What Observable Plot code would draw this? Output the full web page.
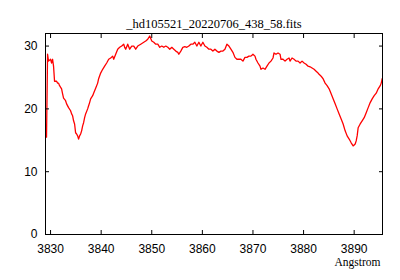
<!DOCTYPE html>
<html>
<head>
<meta charset="utf-8">
<script src="https://cdn.jsdelivr.net/npm/d3@7"></script>
<script src="https://cdn.jsdelivr.net/npm/@observablehq/plot@0.6"></script>
<style>
  html, body { margin: 0; padding: 0; background: #fff; }
  #chart svg { display: block; }
</style>
</head>
<body>
<div id="chart"></div>
<script>
const title = "_hd105521_20220706_438_58.fits";
const xLabel = "Angstrom";
const xTicks = [3830, 3840, 3850, 3860, 3870, 3880, 3890];
const yTicks = [0, 10, 20, 30];

const wavelength = [
  3829.20, 3829.41, 3829.60, 3830.00, 3830.20, 3830.40, 3830.59, 3830.79, 3831.19, 3831.39,
  3831.58, 3831.78, 3832.18, 3832.38, 3832.57, 3832.97, 3833.17, 3833.56, 3833.96, 3834.16,
  3834.36, 3834.55, 3834.75, 3834.95, 3835.15, 3835.35, 3835.54, 3835.74, 3835.94, 3836.14,
  3836.34, 3836.53, 3836.73, 3836.93, 3837.33, 3837.52, 3837.72, 3837.92, 3838.32, 3838.51,
  3838.91, 3839.31, 3839.50, 3839.90, 3840.30, 3840.69, 3841.09, 3841.49, 3841.88, 3842.28,
  3842.48, 3842.87, 3843.27, 3843.66, 3844.06, 3844.46, 3844.65, 3844.85, 3845.25, 3845.64,
  3846.04, 3846.44, 3846.83, 3847.23, 3847.82, 3848.42, 3848.81, 3849.21, 3849.60, 3850.00,
  3850.40, 3850.79, 3851.19, 3851.58, 3851.98, 3852.38, 3852.77, 3853.17, 3853.56, 3853.96,
  3854.36, 3854.75, 3855.15, 3855.35, 3855.74, 3856.14, 3856.53, 3856.93, 3857.33, 3857.72,
  3858.12, 3858.51, 3858.91, 3859.31, 3859.70, 3860.10, 3860.50, 3860.89, 3861.29, 3861.68,
  3862.08, 3862.48, 3862.87, 3863.27, 3863.66, 3864.06, 3864.46, 3864.85, 3865.25, 3865.64,
  3866.04, 3866.44, 3866.83, 3867.23, 3867.62, 3868.02, 3868.42, 3868.81, 3869.21, 3869.60,
  3870.00, 3870.40, 3870.59, 3870.99, 3871.39, 3871.58, 3871.98, 3872.38, 3872.77, 3873.17,
  3873.56, 3873.96, 3874.16, 3874.55, 3874.95, 3875.35, 3875.54, 3875.94, 3876.34, 3876.73,
  3877.13, 3877.33, 3877.72, 3878.12, 3878.51, 3878.91, 3879.31, 3879.70, 3880.10, 3880.50,
  3880.89, 3881.29, 3881.68, 3882.08, 3882.48, 3882.87, 3883.07, 3883.47, 3883.86, 3884.26,
  3884.65, 3885.05, 3885.45, 3885.84, 3886.24, 3886.63, 3887.03, 3887.43, 3887.82, 3888.22,
  3888.61, 3889.01, 3889.41, 3889.80, 3890.20, 3890.40, 3890.59, 3890.79, 3891.19, 3891.58,
  3891.98, 3892.38, 3892.77, 3893.17, 3893.56, 3893.96, 3894.36, 3894.75, 3895.15, 3895.35,
  3895.54
];
const flux = [
  15.5, 28.7, 27.6, 27.9, 27.3, 27.9, 26.8, 24.4, 24.4, 24.1,
  24.1, 23.7, 23.2, 22.4, 21.7, 21.3, 20.8, 20.2, 19.7, 19.2,
  18.9, 18.1, 17.6, 16.2, 16.0, 15.7, 15.2, 15.7, 16.0, 16.5,
  17.3, 17.8, 18.6, 19.2, 20.0, 20.5, 21.0, 21.6, 22.1, 22.5,
  23.3, 24.1, 24.8, 25.7, 26.3, 26.8, 27.3, 27.9, 28.1, 28.4,
  27.9, 28.7, 29.5, 29.8, 30.0, 30.3, 29.8, 29.5, 30.3, 29.5,
  30.0, 30.0, 29.5, 30.0, 30.3, 30.6, 30.8, 31.1, 31.6, 30.8,
  30.6, 30.3, 30.3, 29.8, 30.0, 29.8, 30.0, 29.8, 29.5, 29.8,
  29.5, 29.2, 29.0, 28.7, 29.2, 29.8, 29.9, 29.8, 30.0, 30.3,
  30.3, 30.6, 30.0, 30.6, 30.0, 30.6, 30.0, 29.8, 29.5, 29.5,
  29.2, 29.5, 29.2, 29.0, 29.2, 29.2, 29.5, 30.3, 30.0, 29.5,
  29.0, 28.2, 27.9, 27.9, 27.9, 27.6, 28.2, 28.2, 28.4, 28.4,
  28.7, 28.4, 27.9, 27.3, 26.8, 26.3, 26.5, 26.3, 26.8, 27.3,
  27.6, 28.1, 28.9, 28.7, 28.9, 28.7, 27.9, 27.9, 27.6, 27.9,
  28.1, 27.6, 28.1, 27.9, 27.6, 27.6, 27.3, 27.6, 27.3, 27.1,
  26.8, 26.7, 26.5, 26.3, 26.0, 25.7, 25.5, 25.2, 24.8, 24.1,
  23.7, 23.2, 22.4, 21.6, 20.8, 20.0, 19.2, 18.4, 17.6, 16.5,
  15.7, 15.2, 14.6, 14.1, 14.4, 14.9, 15.7, 17.0, 17.6, 18.1,
  18.6, 19.4, 20.2, 21.0, 21.6, 22.1, 22.5, 23.2, 23.7, 24.1,
  24.8
];

const data = wavelength.map((w, i) => ({w, f: flux[i]}));
const serif = "'Liberation Serif', 'Times New Roman', serif";

const chart = Plot.plot({
  width: 400,
  height: 280,
  marginLeft: 45,
  marginRight: 18,
  marginTop: 33,
  marginBottom: 46,
  style: {fontFamily: "'Liberation Sans', Arial, sans-serif", fontSize: "12px", color: "#000", background: "#fff"},
  x: {domain: [3829, 3895.6]},
  y: {domain: [0, 32]},
  marks: [
    Plot.line(data, {x: "w", y: "f", stroke: "#ff0000", strokeWidth: 1.3, clip: true}),
    Plot.frame({stroke: "#000", strokeWidth: 1}),
    Plot.axisX({ticks: xTicks, anchor: "bottom", tickSize: -4, tickPadding: 14, fontSize: 12, tickFormat: d3.format("d"), label: null}),
    Plot.axisX({ticks: xTicks, anchor: "top", tickSize: -4, tickFormat: () => "", label: null}),
    Plot.axisY({ticks: yTicks, anchor: "left", tickSize: -4, tickPadding: 12, fontSize: 12, tickFormat: d3.format("d"), label: null}),
    Plot.axisY({ticks: yTicks, anchor: "right", tickSize: -4, tickFormat: () => "", label: null}),
    Plot.text([title], {frameAnchor: "top", dy: -14, fontFamily: serif, fontSize: 12.5}),
    Plot.text([xLabel], {frameAnchor: "bottom-right", dx: -2, dy: 31, textAnchor: "end", fontFamily: serif, fontSize: 11.5})
  ]
});
document.getElementById("chart").appendChild(chart);
</script>
</body>
</html>
